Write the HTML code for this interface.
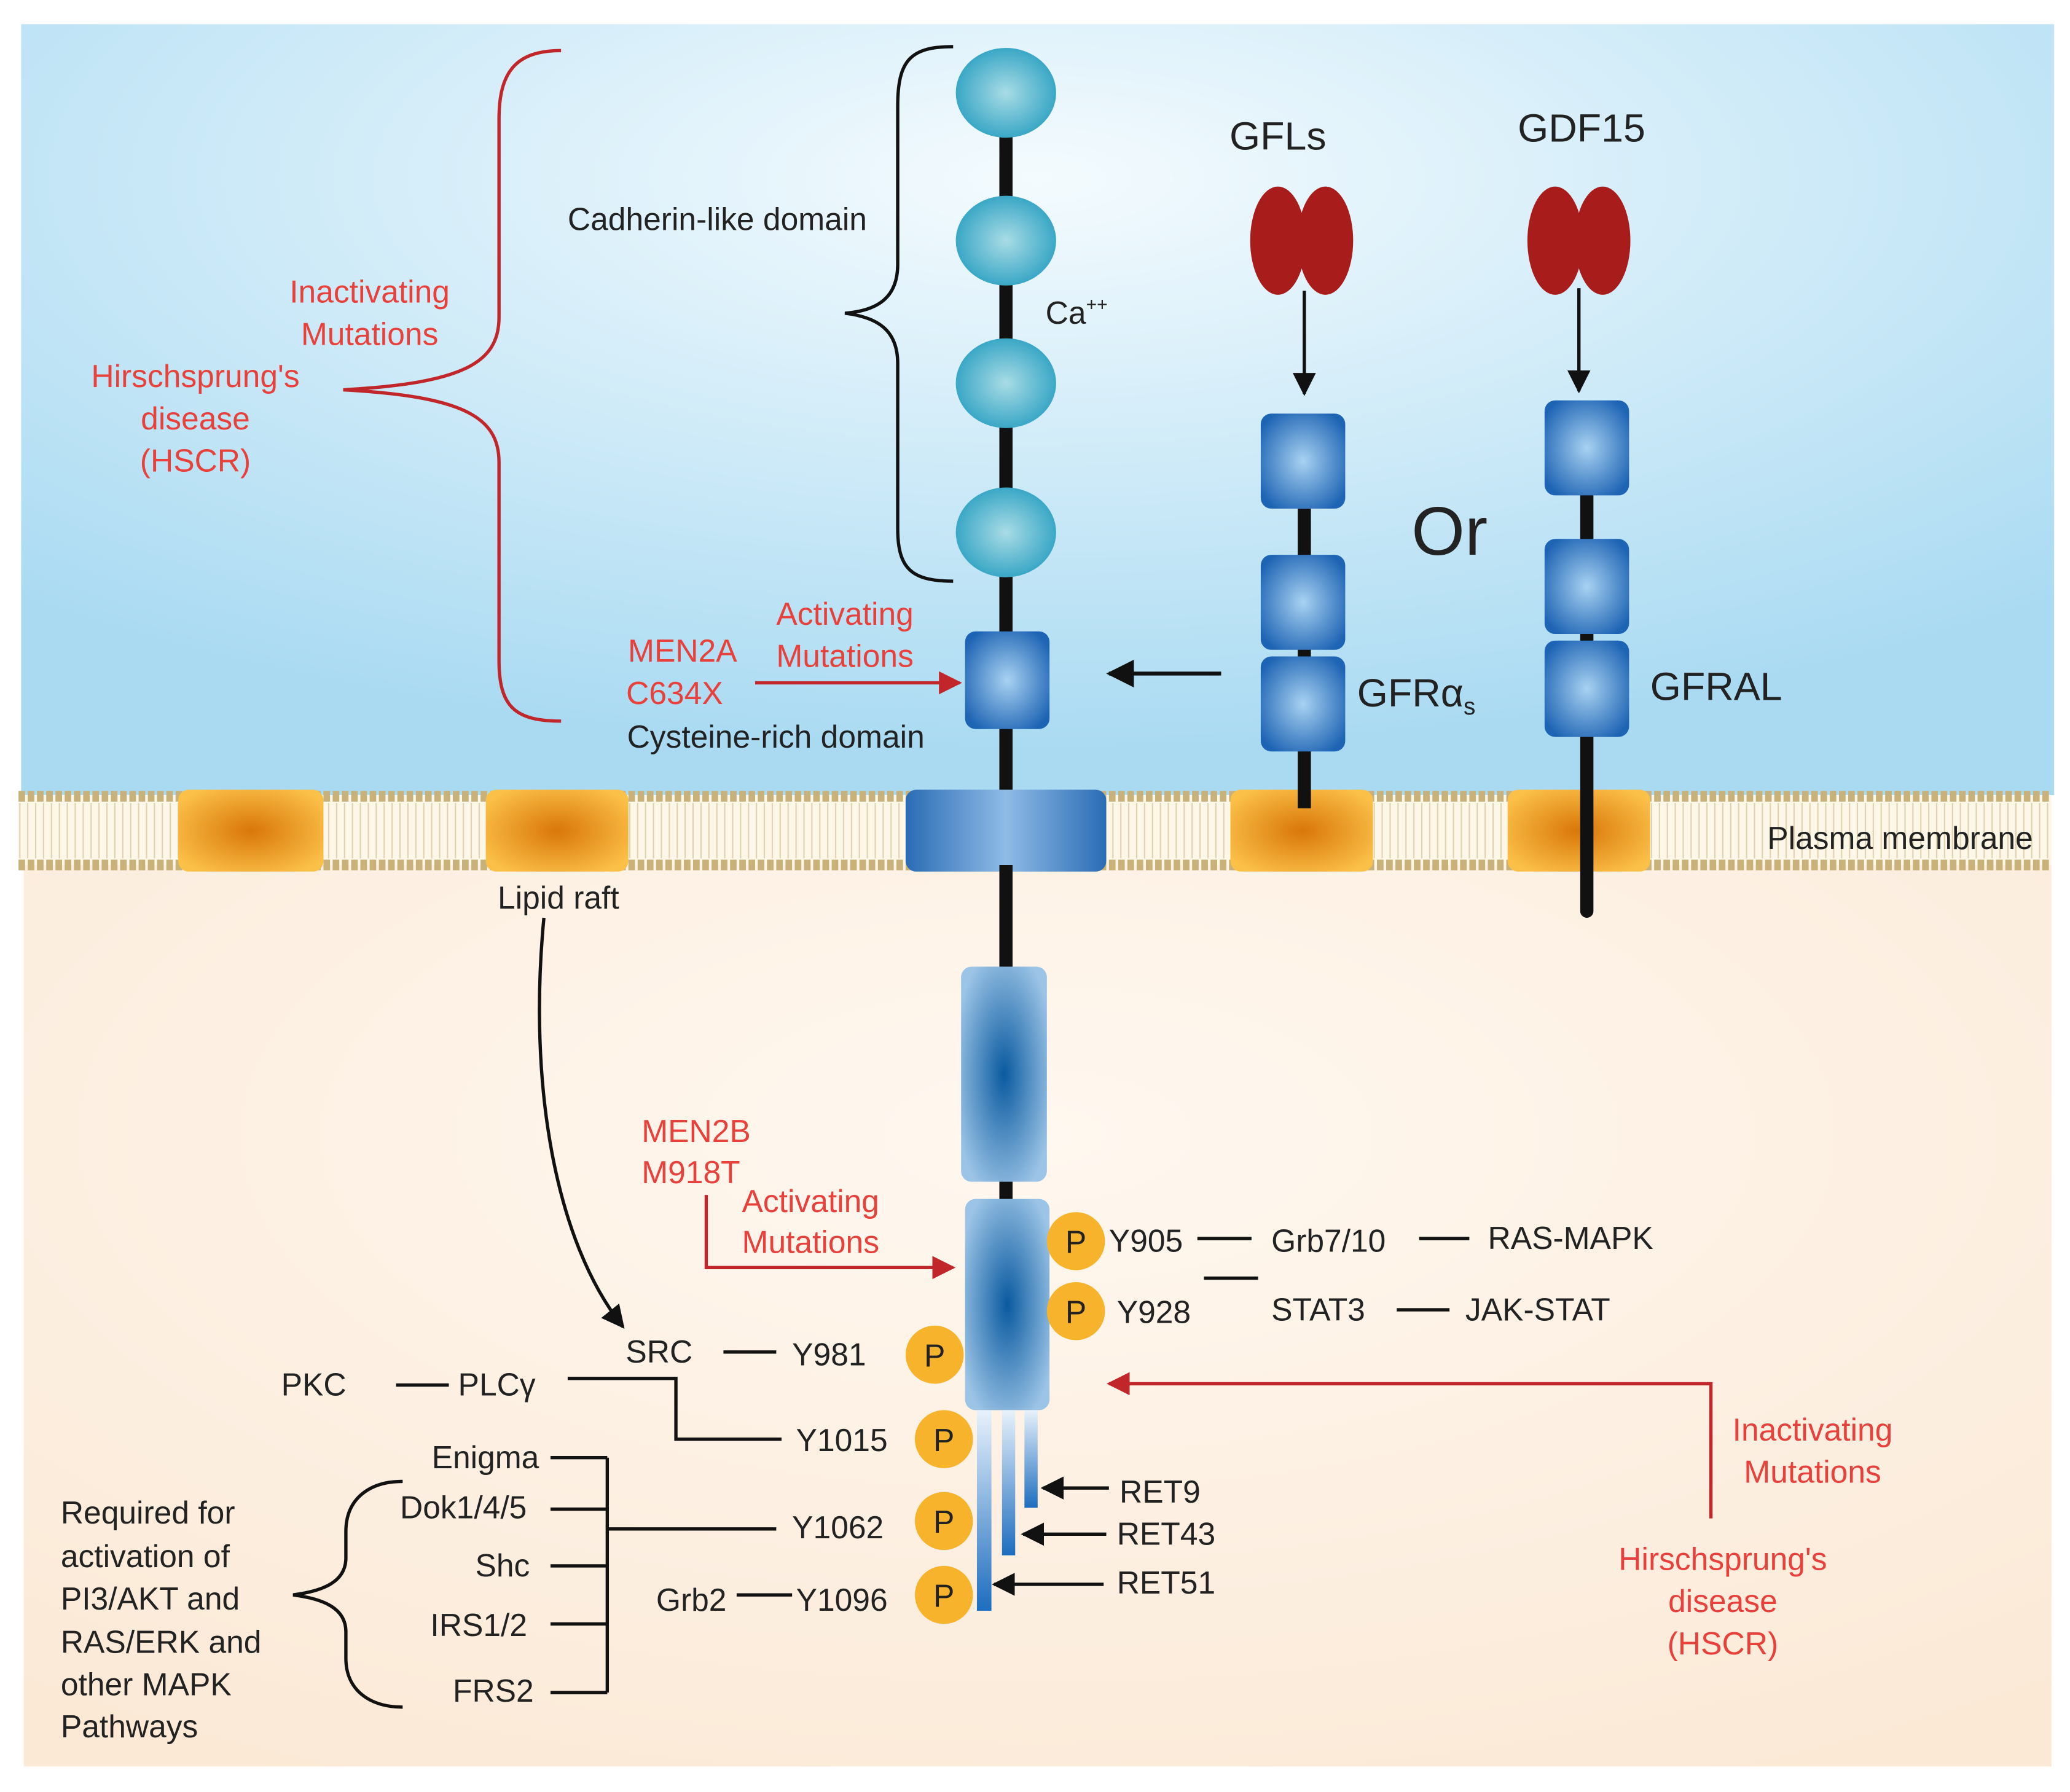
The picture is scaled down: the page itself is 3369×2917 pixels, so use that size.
<!DOCTYPE html>
<html><head><meta charset="utf-8"><style>
html,body{margin:0;padding:0;background:#fff;}
svg{display:block}
text{font-family:"Liberation Sans",sans-serif;font-size:24px;fill:#222}
.r{fill:#e8403a}
</style></head><body>
<svg width="3369" height="2917" viewBox="0 0 1568 1357" xmlns="http://www.w3.org/2000/svg">
<defs>
<radialGradient id="sky" cx="0.5" cy="0.2" r="0.75"><stop offset="0" stop-color="#f4fbfe"/><stop offset="1" stop-color="#a9daf2"/></radialGradient>
<radialGradient id="sand" cx="0.5" cy="0.3" r="0.8"><stop offset="0" stop-color="#fff8f0"/><stop offset="1" stop-color="#fbe9d6"/></radialGradient>
<radialGradient id="teal" cx="0.5" cy="0.5" r="0.55"><stop offset="0" stop-color="#a9dce6"/><stop offset="1" stop-color="#2fa2c3"/></radialGradient>
<radialGradient id="blue" cx="0.5" cy="0.5" r="0.6"><stop offset="0" stop-color="#a8d2f2"/><stop offset="1" stop-color="#1e64b4"/></radialGradient>
<radialGradient id="dblue" cx="0.5" cy="0.5" r="0.6"><stop offset="0" stop-color="#0a5aa0"/><stop offset="1" stop-color="#9cc4e6"/></radialGradient>
<radialGradient id="orng" cx="0.5" cy="0.5" r="0.6"><stop offset="0" stop-color="#d9760a"/><stop offset="1" stop-color="#fbc047"/></radialGradient>
<linearGradient id="tail" x1="0" y1="0" x2="0" y2="1"><stop offset="0" stop-color="#e8f2fb"/><stop offset="1" stop-color="#1d6dbf"/></linearGradient>
<linearGradient id="tm" x1="0" y1="0" x2="1" y2="0"><stop offset="0" stop-color="#2a6cb5"/><stop offset="0.5" stop-color="#8fbbe6"/><stop offset="1" stop-color="#2a6cb5"/></linearGradient>
<pattern id="lip" width="6" height="40" patternUnits="userSpaceOnUse"><line x1="3" y1="0" x2="3" y2="40" stroke="#e0d2b0" stroke-width="1"/></pattern>
<marker id="ak" viewBox="0 0 10 10" refX="9" refY="5" markerWidth="7" markerHeight="7" orient="auto"><path d="M0,0 L10,5 L0,10 z" fill="#111"/></marker>
<marker id="ar" viewBox="0 0 10 10" refX="9" refY="5" markerWidth="7" markerHeight="7" orient="auto"><path d="M0,0 L10,5 L0,10 z" fill="#c0262a"/></marker>
</defs>
<rect x="16" y="18" width="1540" height="584" fill="url(#sky)"/>
<rect x="18" y="655" width="1536" height="683" fill="url(#sand)"/>
<rect x="14" y="603" width="1540" height="52" fill="#fdf7e8"/>
<rect x="14" y="608" width="1540" height="42" fill="url(#lip)"/>
<line x1="14" y1="603" x2="1554" y2="603" stroke="#c9b27a" stroke-width="8" stroke-dasharray="5 2"/>
<line x1="14" y1="655" x2="1554" y2="655" stroke="#c9b27a" stroke-width="8" stroke-dasharray="5 2"/>
<g fill="url(#orng)">
<rect x="135" y="598" width="110" height="62" rx="8"/><rect x="368" y="598" width="108" height="62" rx="8"/>
<rect x="932" y="598" width="108" height="62" rx="8"/><rect x="1142" y="598" width="108" height="62" rx="8"/>
</g>
<line x1="762" y1="70" x2="762" y2="600" stroke="#111" stroke-width="10"/>
<rect x="686" y="598" width="152" height="62" rx="8" fill="url(#tm)"/>
<line x1="762" y1="655" x2="762" y2="910" stroke="#111" stroke-width="10"/>
<g fill="url(#teal)">
<ellipse cx="762" cy="70" rx="38" ry="34"/><ellipse cx="762" cy="182" rx="38" ry="34"/>
<ellipse cx="762" cy="290" rx="38" ry="34"/><ellipse cx="762" cy="403" rx="38" ry="34"/>
</g>
<rect x="731" y="478" width="64" height="74" rx="8" fill="url(#blue)"/>
<path d="M722,35 C690,35 680,45 680,80 L680,200 C680,225 665,235 640,237 C665,240 680,250 680,275 L680,400 C680,430 690,440 722,440" fill="none" stroke="#111" stroke-width="2.5"/>
<text x="430" y="174">Cadherin-like domain</text>
<text x="792" y="245">Ca<tspan style="font-size:14px" dy="-10">++</tspan></text>
<text x="475" y="566">Cysteine-rich domain</text>
<path d="M425,38 C390,38 378,55 378,90 L378,240 C378,275 350,290 260,295 C350,300 378,315 378,350 L378,500 C378,535 390,546 425,546" fill="none" stroke="#c0262a" stroke-width="2.5"/>
<g class="r" text-anchor="middle">
<text class="r" x="280" y="229">Inactivating</text><text class="r" x="280" y="261">Mutations</text>
<text class="r" x="148" y="293">Hirschsprung's</text><text class="r" x="148" y="325">disease</text><text class="r" x="148" y="357">(HSCR)</text>
<text class="r" x="640" y="473">Activating</text><text class="r" x="640" y="505">Mutations</text>
<text class="r" x="517" y="501">MEN2A</text><text class="r" x="511" y="533">C634X</text>
<text class="r" x="1373" y="1091">Inactivating</text><text class="r" x="1373" y="1123">Mutations</text>
<text class="r" x="1305" y="1189">Hirschsprung's</text><text class="r" x="1305" y="1221">disease</text><text class="r" x="1305" y="1253">(HSCR)</text>
</g>
<line x1="572" y1="517" x2="727" y2="517" stroke="#c0262a" stroke-width="2.5" marker-end="url(#ar)"/>
<line x1="925" y1="510" x2="840" y2="510" stroke="#111" stroke-width="3" marker-end="url(#ak)"/>
<text x="968" y="113" style="font-size:30px" text-anchor="middle">GFLs</text>
<text x="1198" y="107" style="font-size:30px" text-anchor="middle">GDF15</text>
<g fill="#a81c1c">
<ellipse cx="968" cy="182" rx="21" ry="41"/><ellipse cx="1004" cy="182" rx="21" ry="41"/>
<ellipse cx="1178" cy="182" rx="21" ry="41"/><ellipse cx="1214" cy="182" rx="21" ry="41"/>
</g>
<line x1="988" y1="220" x2="988" y2="298" stroke="#111" stroke-width="2.5" marker-end="url(#ak)"/>
<line x1="1196" y1="218" x2="1196" y2="296" stroke="#111" stroke-width="2.5" marker-end="url(#ak)"/>
<line x1="988" y1="385" x2="988" y2="612" stroke="#111" stroke-width="10"/>
<line x1="1202" y1="375" x2="1202" y2="690" stroke="#111" stroke-width="10" stroke-linecap="round"/>
<g fill="url(#blue)">
<rect x="955" y="313" width="64" height="72" rx="8"/><rect x="955" y="420" width="64" height="72" rx="8"/><rect x="955" y="497" width="64" height="72" rx="8"/>
<rect x="1170" y="303" width="64" height="72" rx="8"/><rect x="1170" y="408" width="64" height="72" rx="8"/><rect x="1170" y="485" width="64" height="73" rx="8"/>
</g>
<text x="1098" y="420" style="font-size:52px" text-anchor="middle">Or</text>
<text x="1028" y="535" style="font-size:30px">GFRα<tspan style="font-size:18px" dy="6">s</tspan></text>
<text x="1250" y="530" style="font-size:30px">GFRAL</text>
<text x="1540" y="643" text-anchor="end">Plasma membrane</text>
<text x="423" y="688" text-anchor="middle">Lipid raft</text>
<path d="M412,695 C400,820 420,940 472,1005" fill="none" stroke="#111" stroke-width="2.5" marker-end="url(#ak)"/>
<rect x="728" y="732" width="65" height="163" rx="8" fill="url(#dblue)"/>
<rect x="731" y="908" width="64" height="160" rx="8" fill="url(#dblue)"/>
<rect x="740" y="1068" width="11" height="152" fill="url(#tail)"/>
<rect x="759" y="1068" width="10" height="110" fill="url(#tail)"/>
<rect x="776" y="1068" width="10" height="74" fill="url(#tail)"/>
<g fill="#f7b32b">
<circle cx="815" cy="940" r="22"/><circle cx="815" cy="993" r="22"/><circle cx="708" cy="1026" r="22"/>
<circle cx="715" cy="1090" r="22"/><circle cx="715" cy="1152" r="22"/><circle cx="715" cy="1208" r="22"/>
</g>
<g text-anchor="middle">
<text x="815" y="949">P</text><text x="815" y="1002">P</text><text x="708" y="1035">P</text>
<text x="715" y="1099">P</text><text x="715" y="1161">P</text><text x="715" y="1217">P</text>
</g>
<g stroke="#111" stroke-width="2.5" fill="none">
<line x1="907" y1="938" x2="948" y2="938"/><line x1="1075" y1="938" x2="1113" y2="938"/>
<line x1="912" y1="968" x2="953" y2="968"/><line x1="1058" y1="992" x2="1098" y2="992"/>
<line x1="548" y1="1024" x2="588" y2="1024"/><line x1="300" y1="1049" x2="340" y2="1049"/>
<path d="M430,1044 L512,1044 L512,1090 L592,1090"/>
<line x1="460" y1="1104" x2="460" y2="1282"/>
<line x1="417" y1="1104" x2="460" y2="1104"/><line x1="417" y1="1143" x2="460" y2="1143"/>
<line x1="417" y1="1186" x2="460" y2="1186"/><line x1="417" y1="1230" x2="460" y2="1230"/>
<line x1="417" y1="1282" x2="460" y2="1282"/><line x1="460" y1="1158" x2="588" y2="1158"/>
<line x1="558" y1="1208" x2="600" y2="1208"/>
<line x1="840" y1="1127" x2="790" y2="1127" marker-end="url(#ak)"/>
<line x1="838" y1="1162" x2="775" y2="1162" marker-end="url(#ak)"/>
<line x1="836" y1="1200" x2="753" y2="1200" marker-end="url(#ak)"/>
<path d="M305,1122 C280,1122 262,1135 262,1160 L262,1180 C262,1198 245,1205 222,1208 C245,1211 262,1218 262,1236 L262,1256 C262,1280 280,1293 305,1293"/>
</g>
<text x="840" y="948">Y905</text><text x="963" y="948">Grb7/10</text><text x="1127" y="946">RAS-MAPK</text>
<text x="846" y="1002">Y928</text><text x="963" y="1000">STAT3</text><text x="1110" y="1000">JAK-STAT</text>
<text x="474" y="1032">SRC</text><text x="600" y="1034">Y981</text>
<text x="213" y="1057">PKC</text><text x="347" y="1057">PLCγ</text><text x="603" y="1099">Y1015</text>
<text x="327" y="1112">Enigma</text><text x="303" y="1150">Dok1/4/5</text><text x="360" y="1194">Shc</text>
<text x="326" y="1239">IRS1/2</text><text x="343" y="1289">FRS2</text>
<text x="600" y="1165">Y1062</text><text x="497" y="1220">Grb2</text><text x="603" y="1220">Y1096</text>
<text x="848" y="1138">RET9</text><text x="846" y="1170">RET43</text><text x="846" y="1207">RET51</text>
<text x="46" y="1154">Required for</text><text x="46" y="1187">activation of</text><text x="46" y="1219">PI3/AKT and</text>
<text x="46" y="1252">RAS/ERK and</text><text x="46" y="1284">other MAPK</text><text x="46" y="1316">Pathways</text>
<text class="r" x="486" y="865">MEN2B</text><text class="r" x="486" y="896">M918T</text>
<text class="r" x="562" y="918">Activating</text><text class="r" x="562" y="949">Mutations</text>
<path d="M535,905 L535,960 L722,960" fill="none" stroke="#c0262a" stroke-width="2.5" marker-end="url(#ar)"/>
<path d="M1296,1150 L1296,1048 L840,1048" fill="none" stroke="#c0262a" stroke-width="2.5" marker-end="url(#ar)"/>
</svg>
</body></html>
